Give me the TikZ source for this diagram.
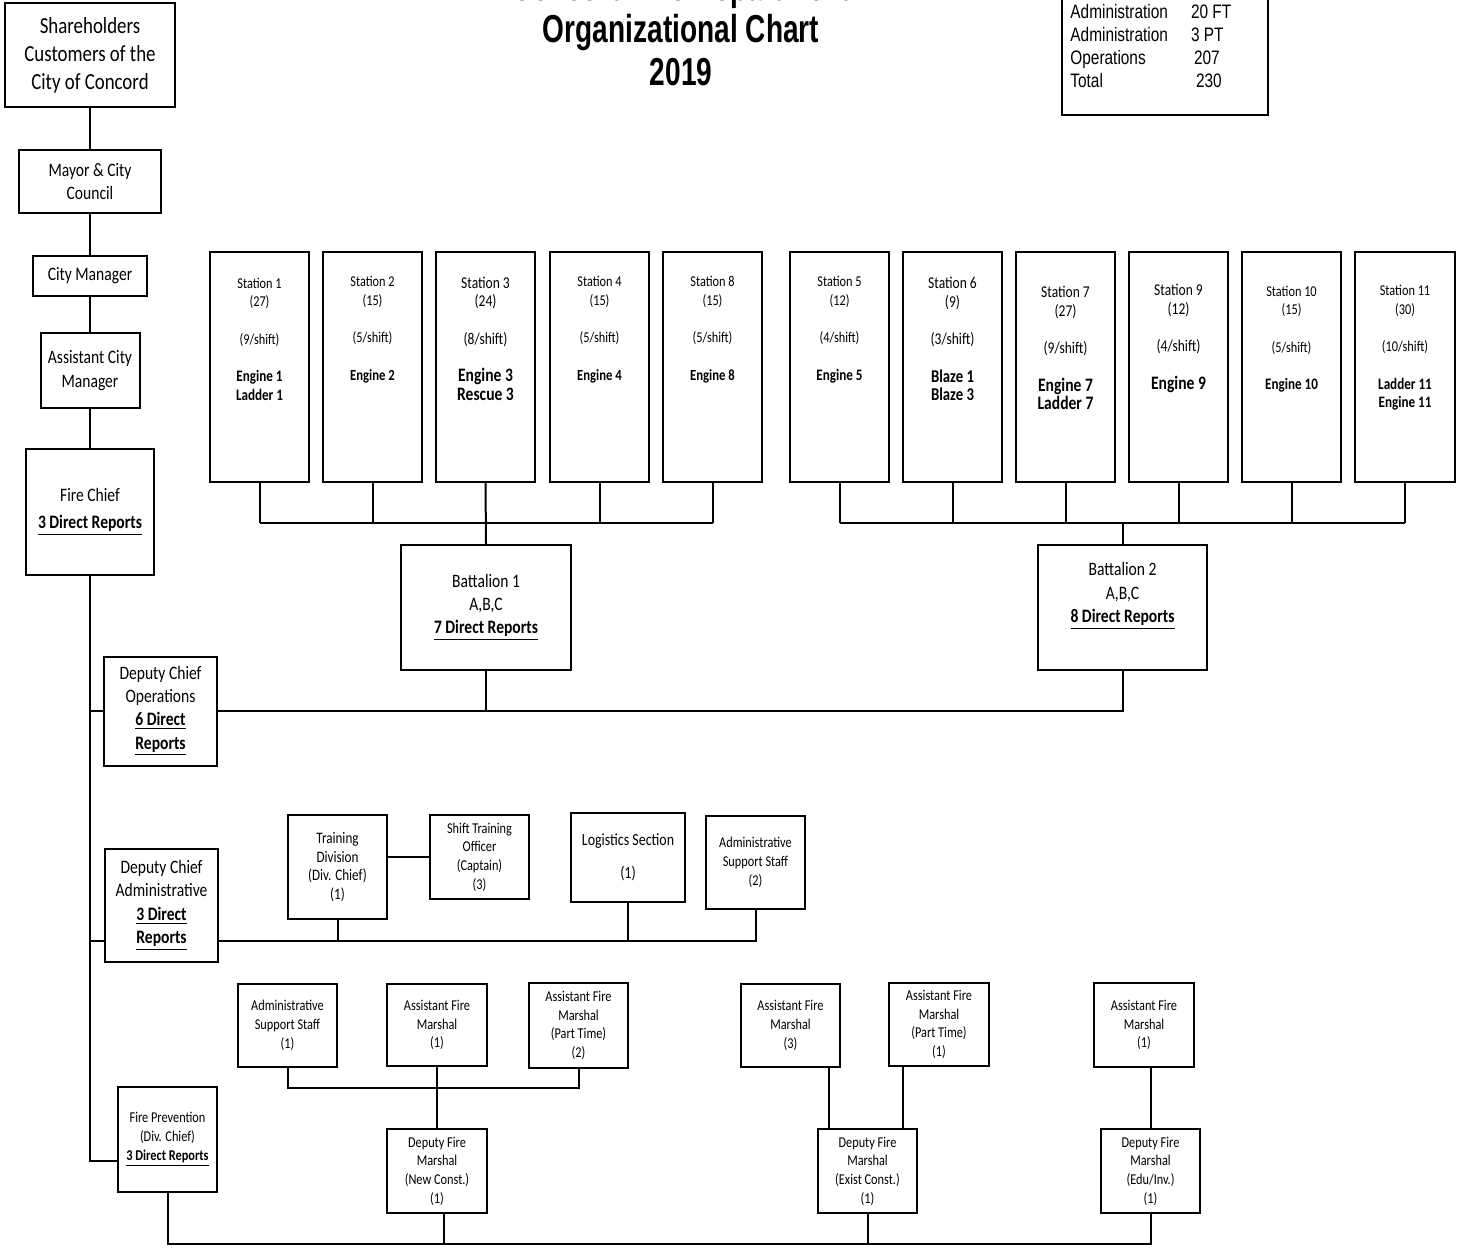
\documentclass[tikz,border=0pt]{standalone}
\usepackage{fontspec}
\newfontfamily\boxfont[FakeStretch=0.82]{Carlito}
\newfontfamily\titlefont[FakeStretch=0.72]{Liberation Sans}
\newfontfamily\legfont[FakeStretch=0.79]{Liberation Sans}
\newcommand\myfs[2]{\fontsize{#1}{#2}\selectfont}
\newcommand\eng[2]{{\bfseries\fontsize{#1}{9.35pt}\selectfont #2}}
\begin{document}
\begin{tikzpicture}[x=0.5pt,y=-0.5pt,
  box/.style={draw, line width=1pt, inner sep=0pt, align=center, font=\boxfont},
  txt/.style={inner sep=0pt, align=center},
  wh/.style 2 args={minimum width=#1*0.5pt, minimum height=#2*0.5pt},
  fbig/.style={font=\boxfont\myfs{11.5pt}{14pt}},
  fmid/.style={font=\boxfont\myfs{9.5pt}{11.65pt}},
  fsm/.style={font=\boxfont\myfs{7.5pt}{9.3pt}},
  fst/.style={font=\boxfont\myfs{7.5pt}{9.35pt}},
  fstb/.style={font=\boxfont\myfs{8.25pt}{9.35pt}},
  conn/.style={line width=1pt}]
\fill[white] (0,0) rectangle (1459,1247);
\useasboundingbox (0,0) rectangle (1459,1247);

% title
\node[font=\titlefont\bfseries\myfs{19.5pt}{21pt}, inner sep=0pt, anchor=base] (t1) at (681,1) {Concord Fire Department};
\node[font=\titlefont\bfseries\myfs{19.5pt}{21pt}, inner sep=0pt, anchor=base] (t2) at (681,43) {Organizational Chart};
\node[font=\titlefont\bfseries\myfs{19.5pt}{21pt}, inner sep=0pt, anchor=base] (t3) at (681,85) {2019};

% legend
\node[draw, line width=1pt, wh={206}{135}] (legbox) at (1165,47.5) {};
\node[font=\legfont\myfs{9.75pt}{11.5pt}, inner sep=0pt, anchor=base west] (legt) at (1070,19)
 {\begin{tabular}[t]{@{}l@{\hspace{11.5pt}}l@{}}Administration & 20 FT\\ Administration & 3 PT\\ Operations & \hspace{1.5pt}207\\ Total & \hspace{2.5pt}230\end{tabular}};

% left chain
\node[box, fbig, wh={170}{104}] (sh) at (90,55) {Shareholders\\Customers of the\\City of Concord};
\node[box, fmid, wh={142}{63}] (mayor) at (90,181.5) {Mayor \& City\\Council};
\node[box, fmid, wh={114}{40}] (cm) at (90,276) {City Manager};
\node[box, fmid, wh={99}{75}] (acm) at (90,370.5) {Assistant City\\Manager};
\node[box, fmid, wh={128}{126}] (fc) at (90,512) {Fire Chief\\[2pt]\underline{\textbf{3 Direct Reports}}};
\draw[conn] (sh.south) -- (mayor.north);
\draw[conn] (mayor.south) -- (cm.north);
\draw[conn] (cm.south) -- (acm.north);
\draw[conn] (acm.south) -- (fc.north);

% deputies
\node[box, fmid, wh={113}{109}] (dco) at (160.5,711) {Deputy Chief\\Operations\\\underline{\textbf{6 Direct}}\\\underline{\textbf{Reports}}};
\node[box, fmid, wh={113}{113}] (dca) at (161.5,905.5) {Deputy Chief\\Administrative\\\underline{\textbf{3 Direct}}\\\underline{\textbf{Reports}}};
\node[box, fsm, wh={99}{105}] (fp) at (167.5,1139.5) {Fire Prevention\\(Div. Chief)\\\underline{\textbf{3 Direct Reports}}};
\coordinate (j1) at (90,711);
\coordinate (j2) at (90,941);
\coordinate (j3) at (90,1161);
\draw[conn] (fc.south) -- (j3) -- (j3 -| fp.west);
\draw[conn] (j1) -- (dco.west);
\draw[conn] (j2) -- (j2 -| dca.west);

% battalions
\node[box, fmid, wh={170}{125}] (b1) at (486,607.5) {Battalion 1\\A,B,C\\\underline{\textbf{7 Direct Reports}}};
\node[box, wh={169}{125}] (b2) at (1122.5,607.5) {};
\node[txt, fmid] (b2t) at (1122.5,596) {Battalion 2\\A,B,C\\\underline{\textbf{8 Direct Reports}}};
\draw[conn] (dco.east) -- (dco.east -| b2.south) -- (b2.south);
\draw[conn] (b1.south) -- (b1.south |- dco.east);

% stations battalion 1
\coordinate (bus) at (0,523);
\node[box, wh={99}{230}] (s1) at (259.5,367) {};
\node[txt, fst] (s1t) at (259.5,339) {Station 1\\(27)\\[9.35pt](9/shift)\\[9.35pt]\eng{8pt}{Engine 1}\\\eng{8pt}{Ladder 1}};
\node[box, wh={99}{230}] (s2) at (372.5,367) {};
\node[txt, fst] (s2t) at (372.5,329.5) {Station 2\\(15)\\[9.35pt](5/shift)\\[9.35pt]\eng{7.75pt}{Engine 2}};
\node[box, wh={99}{230}] (s3) at (485.5,367) {};
\node[txt, fstb] (s3t) at (485.5,338.5) {Station 3\\(24)\\[9.35pt](8/shift)\\[9.35pt]\eng{9.5pt}{Engine 3}\\\eng{9.5pt}{Rescue 3}};
\node[box, wh={99}{230}] (s4) at (599.5,367) {};
\node[txt, fst] (s4t) at (599.5,329.5) {Station 4\\(15)\\[9.35pt](5/shift)\\[9.35pt]\eng{7.75pt}{Engine 4}};
\node[box, wh={99}{230}] (s8) at (712.5,367) {};
\node[txt, fst] (s8t) at (712.5,329.5) {Station 8\\(15)\\[9.35pt](5/shift)\\[9.35pt]\eng{7.75pt}{Engine 8}};
\foreach \n in {s1,s2,s4,s8} \draw[conn] (\n.south) -- (\n.south |- bus);
\draw[conn] (s1.south |- bus) -- (s8.south |- bus);
\draw[conn] (s3.south) -- (b1.north);

% stations battalion 2
\node[box, wh={99}{230}] (s5) at (839.5,367) {};
\node[txt, fst] (s5t) at (839.5,329.5) {Station 5\\(12)\\[9.35pt](4/shift)\\[9.35pt]\eng{8pt}{Engine 5}};
\node[box, wh={99}{230}] (s6) at (952.5,367) {};
\node[txt, fstb] (s6t) at (952.5,339) {Station 6\\(9)\\[9.35pt](3/shift)\\[9.35pt]\eng{9pt}{Blaze 1}\\\eng{9pt}{Blaze 3}};
\node[box, wh={99}{230}] (s7) at (1065.5,367) {};
\node[txt, fstb] (s7t) at (1065.5,348) {Station 7\\(27)\\[9.35pt](9/shift)\\[9.35pt]\eng{9.5pt}{Engine 7}\\\eng{9.5pt}{Ladder 7}};
\node[box, wh={99}{230}] (s9) at (1178.5,367) {};
\node[txt, fstb] (s9t) at (1178.5,338.5) {Station 9\\(12)\\[9.35pt](4/shift)\\[9.35pt]\eng{9.5pt}{Engine 9}};
\node[box, wh={99}{230}] (s10) at (1291.5,367) {};
\node[txt, fst] (s10t) at (1291.5,339) {Station 10\\(15)\\[9.35pt](5/shift)\\[9.35pt]\eng{8pt}{Engine 10}};
\node[box, wh={100}{230}] (s11) at (1405,367) {};
\node[txt, fst] (s11t) at (1405,348) {Station 11\\(30)\\[9.35pt](10/shift)\\[9.35pt]\eng{8pt}{Ladder 11}\\\eng{8pt}{Engine 11}};
\foreach \n in {s5,s6,s7,s9,s10,s11} \draw[conn] (\n.south) -- (\n.south |- bus);
\draw[conn] (s5.south |- bus) -- (s11.south |- bus);
\draw[conn] (b2.north) -- (b2.north |- bus);

% administrative
\node[box, font=\boxfont\myfs{8pt}{9.25pt}, wh={99}{104}] (tdiv) at (337.5,867) {Training\\Division\\(Div. Chief)\\(1)};
\node[box, fst, wh={99}{84}] (sto) at (479.5,857) {Shift Training\\Officer\\(Captain)\\(3)};
\node[box, font=\boxfont\myfs{8.5pt}{10pt}, wh={114}{89}] (log) at (628,857.5) {Logistics Section\\[6.5pt](1)};
\node[box, fst, wh={99}{93}] (ass2) at (755.5,862.5) {Administrative\\Support Staff\\(2)};
\draw[conn] (sto.west) -- (sto.west -| tdiv.east);
\draw[conn] (j2 -| dca.east) -- (j2 -| ass2.south) -- (ass2.south);
\draw[conn] (tdiv.south) -- (tdiv.south |- j2);
\draw[conn] (log.south) -- (log.south |- j2);

% fire prevention
\coordinate (yA) at (0,1088);
\coordinate (bb) at (0,1244);
\node[box, fst, wh={99}{83}] (asA) at (287.5,1025.5) {Administrative\\Support Staff\\(1)};
\node[box, fst, wh={100}{82}] (afmA) at (437,1025) {Assistant Fire\\Marshal\\(1)};
\node[box, fst, wh={99}{85}] (afmptA) at (578.5,1025.5) {Assistant Fire\\Marshal\\(Part Time)\\(2)};
\node[box, fst, wh={100}{84}] (dfmA) at (437,1171) {Deputy Fire\\Marshal\\(New Const.)\\(1)};
\node[box, fst, wh={99}{83}] (afmB) at (790.5,1025.5) {Assistant Fire\\Marshal\\(3)};
\node[box, fst, wh={100}{83}] (afmptB) at (939,1024.5) {Assistant Fire\\Marshal\\(Part Time)\\(1)};
\node[box, fst, wh={99}{84}] (dfmB) at (867.5,1171) {Deputy Fire\\Marshal\\(Exist Const.)\\(1)};
\node[box, fst, wh={100}{84}] (afmC) at (1144,1025) {Assistant Fire\\Marshal\\(1)};
\node[box, fst, wh={99}{84}] (dfmC) at (1150.5,1171) {Deputy Fire\\Marshal\\(Edu/Inv.)\\(1)};

\draw[conn] (asA.south) -- (asA.south |- yA) -- (afmptA.south |- yA) -- (afmptA.south);
\draw[conn] (afmA.south) -- (dfmA.north);
\draw[conn] ([xshift=19pt]afmB.south) -- ([xshift=19pt]afmB.south |- dfmB.north);
\draw[conn] ([xshift=-18pt]afmptB.south) -- ([xshift=-18pt]afmptB.south |- dfmB.north);
\draw[conn] (dfmC.north) -- (dfmC.north |- afmC.south);
\draw[conn] (fp.south) -- (fp.south |- bb) -- (dfmC.south |- bb) -- (dfmC.south);
\draw[conn] ([xshift=3.5pt]dfmA.south) -- ([xshift=3.5pt]dfmA.south |- bb);
\draw[conn] (dfmB.south) -- (dfmB.south |- bb);
\end{tikzpicture}
\end{document}
